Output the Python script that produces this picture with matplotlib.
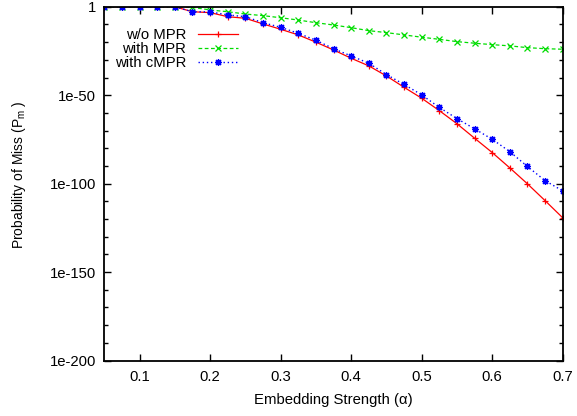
import numpy as np
import matplotlib
matplotlib.use('Agg')
from matplotlib import pyplot as plt
from matplotlib.ticker import FixedLocator, NullFormatter

plt.rcParams['font.family'] = ['Liberation Sans', 'DejaVu Sans']
plt.rcParams['mathtext.fontset'] = 'custom'
plt.rcParams['mathtext.rm'] = 'Liberation Sans'
plt.rcParams['mathtext.it'] = 'Liberation Sans:italic'

# embedding strength
alpha = [0.05, 0.075, 0.1, 0.125, 0.15, 0.175, 0.2, 0.225, 0.25, 0.275, 0.3,
         0.325, 0.35, 0.375, 0.4, 0.425, 0.45, 0.475, 0.5, 0.525, 0.55,
         0.575, 0.6, 0.625, 0.65, 0.675, 0.7]

# log10 of probability of miss
log_wo_mpr = [0, 0, 0, 0, 0, -2.8, -3.3, -5.6, -6.5, -9.7, -12.7,
              -15.9, -20.0, -24.4, -29.1, -33.4, -39.1, -45.5, -51.7, -58.7, -66.1,
              -74.3, -82.4, -91.1, -100.1, -109.6, -119.3]
log_mpr = [0, 0, 0, 0, 0, -0.3, -1.8, -2.8, -4.1, -5.0, -6.2,
           -7.5, -9.0, -10.3, -11.8, -13.5, -14.6, -15.9, -17.2, -18.4, -19.7,
           -20.6, -21.4, -22.1, -23.1, -23.7, -24.0]
log_cmpr = [0, 0, 0, 0, 0, -2.8, -2.9, -4.6, -5.6, -9.0, -11.6,
            -15.0, -18.9, -23.7, -27.8, -31.9, -38.3, -43.9, -49.8, -56.9, -63.2,
            -69.0, -74.9, -81.9, -90.3, -98.3, -104.1]

labels = ['w/o MPR', 'with MPR', 'with cMPR']
xtick_vals = [0.1, 0.2, 0.3, 0.4, 0.5, 0.6, 0.7]
xtick_labels = ['0.1', '0.2', '0.3', '0.4', '0.5', '0.6', '0.7']
ytick_vals = [1, 1e-50, 1e-100, 1e-150, 1e-200]
ytick_labels = ['1', '1e-50', '1e-100', '1e-150', '1e-200']

fs = 10.7
fig = plt.figure(figsize=(5.77, 4.16), dpi=100)
ax = fig.add_axes([0.1808, 0.1334, 0.7944, 0.8503])

ax.plot(alpha, 10.0 ** np.array(log_wo_mpr), color='#ff0000', lw=0.9,
        marker='+', ms=5, mew=0.9, label=labels[0])
ax.plot(alpha, 10.0 ** np.array(log_mpr), color='#00dd00', lw=0.9, ls=(0, (3, 2)),
        marker='x', ms=4.5, mew=0.9, label=labels[1])
ax.plot(alpha, 10.0 ** np.array(log_cmpr), color='#0000ff', lw=1.0, ls=(0, (1, 2)),
        marker=(8, 2, 0), ms=5, mew=0.9, label=labels[2])

ax.set_yscale('log')
ax.set_xlim(0.05, 0.7)
ax.set_ylim(1e-200, 1)
ax.xaxis.set_major_locator(FixedLocator(xtick_vals))
ax.set_xticklabels(xtick_labels)
ax.yaxis.set_major_locator(FixedLocator(ytick_vals))
ax.yaxis.set_minor_locator(FixedLocator([10.0 ** -k for k in range(10, 200, 10) if k % 50]))
ax.yaxis.set_minor_formatter(NullFormatter())
ax.set_yticklabels(ytick_labels)

ax.tick_params(which='both', direction='in', top=True, right=True, labelsize=fs,
               colors='black')
ax.tick_params(axis='y', pad=6)
ax.tick_params(axis='x', pad=7)
ax.tick_params(which='major', length=5, width=1)
ax.tick_params(which='minor', length=3, width=1)
for s in ax.spines.values():
    s.set_linewidth(1.3)

ax.set_xlabel('Embedding Strength (α)', fontsize=fs, labelpad=6)
ax.set_ylabel('Probability of Miss (P$_{\\mathrm{m}}$ )', fontsize=10)
ax.yaxis.set_label_coords(-0.167, 0.524)

leg = ax.legend(loc='upper left', bbox_to_anchor=(0.0, 0.969), frameon=False,
                markerfirst=False, fontsize=fs, handlelength=2.7,
                labelspacing=0.0, borderaxespad=0.3)
for t in leg.get_texts():
    t.set_ha('right')

fig.savefig('out.png', dpi=100)
